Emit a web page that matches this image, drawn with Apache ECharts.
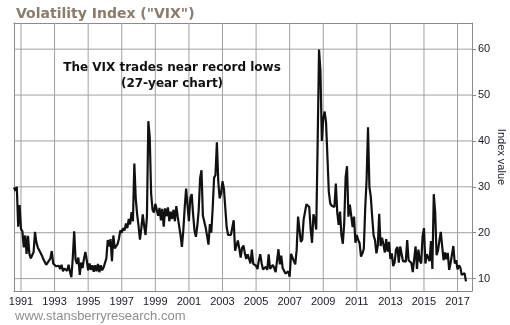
<!DOCTYPE html>
<html>
<head>
<meta charset="utf-8">
<script src="https://cdn.jsdelivr.net/npm/echarts@6/dist/echarts.min.js"></script>
<style>html,body{margin:0;padding:0;background:#fff}#c{width:510px;height:325px}</style>
</head>
<body>
<div id="c"></div>
<script>
// Monthly VIX closes, Aug 1990 .. Jul 2017
const firstYear = 1990, firstMonth = 8;
const vix1990s = [
  29.9, 29.1, 30.0, 21.3, 26.0,
  20.8, 20.3, 16.8, 19.4, 15.4, 19.3, 15.4, 14.4, 15.1, 15.8, 20.2, 17.9,
  16.8, 16.2, 15.8, 15.0, 14.2, 13.6, 13.0, 13.4, 13.9, 14.4, 16.0, 13.3,
  12.9, 12.7, 12.3, 12.8, 12.1, 13.0, 11.6, 12.2, 12.6, 11.7, 13.0, 11.5,
  10.3, 14.5, 20.3, 14.2, 13.2, 14.6, 10.8, 13.5, 12.3, 14.3, 15.8, 14.0,
  11.8, 13.3, 11.9, 12.9, 11.5, 12.9, 11.6, 13.2, 11.4, 12.9, 11.8, 12.4,
  12.0, 14.4, 18.4, 17.0, 18.6, 13.8, 19.4, 16.6, 16.9, 17.5, 18.7, 20.5,
  20.0, 21.0, 20.5, 22.0, 21.0, 23.0, 21.8, 24.5, 22.5, 35.1, 27.5, 24.0,
  21.5, 18.5, 21.0, 24.0, 21.5, 19.5, 23.5, 44.3, 40.9, 28.5, 25.0, 24.4,
  26.3, 26.6, 23.7, 25.4, 22.7, 25.2, 21.3, 25.3, 23.6, 25.5, 22.5, 24.6
];
const vix2000s = [
  23.0, 25.0, 22.5, 25.8, 23.5, 21.5, 19.5, 16.9, 20.5, 25.5, 29.6, 26.0,
  22.5, 27.5, 28.4, 24.0, 20.5, 19.1, 21.5, 24.9, 31.9, 33.6, 23.7, 23.4,
  21.1, 21.1, 17.4, 21.9, 20.0, 25.4, 32.0, 32.6, 39.7, 31.1, 27.5, 28.6,
  31.2, 29.6, 29.2, 21.2, 19.5, 19.5, 19.5, 19.9, 22.7, 16.1, 16.3, 18.3,
  16.6, 14.6, 16.7, 17.2, 15.5, 14.3, 15.3, 15.3, 13.3, 16.3, 13.2, 13.3,
  12.8, 12.1, 14.0, 15.3, 13.3, 12.0, 11.6, 12.6, 11.9, 15.3, 12.1, 12.1,
  13.0, 12.3, 11.4, 11.6, 16.4, 13.1, 15.0, 12.3, 12.0, 11.1, 10.9, 11.6,
  10.4, 15.4, 14.6, 14.2, 13.1, 16.2, 23.5, 23.4, 18.0, 18.5, 22.9, 22.5,
  26.2, 26.5, 25.6, 20.8, 17.8, 24.0, 22.9, 20.7, 39.4, 59.9, 55.3, 40.0,
  44.8, 46.4, 44.1, 36.5, 28.9, 26.4, 25.9, 26.0, 25.6, 30.7, 24.5, 21.7
];
const vix2010s = [
  24.6, 19.5, 17.6, 22.1, 32.1, 34.5, 23.5, 26.1, 23.7, 21.2, 23.5, 17.8,
  19.5, 18.4, 17.7, 14.8, 15.5, 16.5, 25.3, 31.6, 43.0, 30.0, 27.8, 23.4,
  19.4, 18.4, 15.5, 17.2, 24.1, 17.1, 18.9, 17.5, 15.7, 18.6, 15.9, 18.0,
  14.3, 15.5, 12.7, 13.5, 16.3, 16.9, 13.5, 17.0, 16.6, 13.8, 13.7, 13.7,
  18.4, 14.0, 13.9, 13.4, 11.4, 11.6, 17.0, 12.1, 16.3, 14.0, 13.3, 19.2,
  21.0, 13.3, 15.3, 14.6, 13.8, 18.2, 12.1, 28.4, 24.5, 15.1, 16.1, 18.2,
  20.2, 20.6, 14.0, 15.7, 14.2, 15.6, 11.9, 13.4, 13.3, 17.1, 13.3, 14.0,
  12.0, 12.9, 12.4, 10.8, 10.4, 11.2, 9.4
];
const yearTicks = [1991,1993,1995,1997,1999,2001,2003,2005,2007,2009,2011,2013,2015,2017];
const valueTicks = [10,20,30,40,50,60];
const xRange = [1990.583, 2017.86];
const yRange = [7.3, 65.7];

const allValues = vix1990s.concat(vix2000s, vix2010s);
const seriesData = allValues.map((v, i) => [firstYear + (firstMonth - 1 + i) / 12, v]);

const gridColor = '#a0a0a0';
const gridSeries = yearTicks.map(t => [[t, yRange[0]], [t, yRange[1]]])
  .concat(valueTicks.map(v => [[xRange[0], v], [xRange[1], v]]))
  .map((pts, i) => ({type: 'line', name: 'g' + i, data: pts, z: 2, showSymbol: false,
    color: gridColor, lineStyle: {color: gridColor, width: 1}, itemStyle: {color: gridColor},
    xAxisIndex: 0, yAxisIndex: 0}));

const frameLine = {show: true, onZero: false, lineStyle: {color: '#8a8a8a', width: 1}};
const chart = echarts.init(document.getElementById('c'), null, {renderer: 'canvas'});
chart.setOption({
  animation: false,
  backgroundColor: '#ffffff',
  title: {
    text: 'Volatility Index ("VIX")',
    left: 11, top: 2,
    textStyle: {fontFamily: 'DejaVu Sans', fontWeight: 'bold', fontSize: 14, color: '#8b7b6b'}
  },
  grid: {left: 14, right: 38, top: 23, bottom: 34, show: false,
    outerBoundsMode: 'none', containLabel: false},
  xAxis: [{
    type: 'value',
    min: xRange[0], max: xRange[1],
    axisLine: frameLine,
    axisTick: {show: false, customValues: yearTicks},
    axisLabel: {customValues: yearTicks, formatter: v => String(Math.round(v)),
      fontFamily: 'Liberation Sans', fontSize: 11, color: '#1a1a2a', margin: 5},
    splitLine: {show: false}
  }, {
    type: 'value', position: 'top',
    min: xRange[0], max: xRange[1],
    axisLine: frameLine, axisTick: {show: false}, axisLabel: {show: false}, splitLine: {show: false}
  }],
  yAxis: [{
    type: 'value',
    position: 'right',
    min: yRange[0], max: yRange[1],
    name: 'Index value',
    nameLocation: 'middle',
    nameRotate: -90,
    nameGap: 24,
    nameMoveOverlap: false,
    nameTextStyle: {fontFamily: 'Liberation Sans', fontSize: 11, color: '#1a1a2a'},
    axisLine: frameLine,
    axisTick: {show: true, inside: false, length: 4, customValues: valueTicks, lineStyle: {color: '#8a8a8a'}},
    axisLabel: {customValues: valueTicks, fontFamily: 'Liberation Sans', fontSize: 11, color: '#1a1a2a', margin: 6},
    splitLine: {show: false}
  }, {
    type: 'value', position: 'left',
    min: yRange[0], max: yRange[1],
    axisLine: frameLine, axisTick: {show: false}, axisLabel: {show: false}, splitLine: {show: false}
  }],
  graphic: [
    {type: 'text', x: 172, y: 60, z: 10, style: {
      text: 'The VIX trades near record lows\n(27-year chart)',
      align: 'center', font: 'bold 12px "DejaVu Sans"', fill: '#111', lineHeight: 16}},
    {type: 'text', x: 15, y: 310, style: {
      text: 'www.stansberryresearch.com', font: '13px "Liberation Sans"', fill: '#8f8f8f'}}
  ],
  series: gridSeries.concat([{
    type: 'line',
    name: 'VIX',
    data: seriesData,
    z: 3,
    showSymbol: false,
    lineStyle: {color: '#111111', width: 2.2},
    clip: true,
    xAxisIndex: 0, yAxisIndex: 0
  }])
});
</script>
</body>
</html>
